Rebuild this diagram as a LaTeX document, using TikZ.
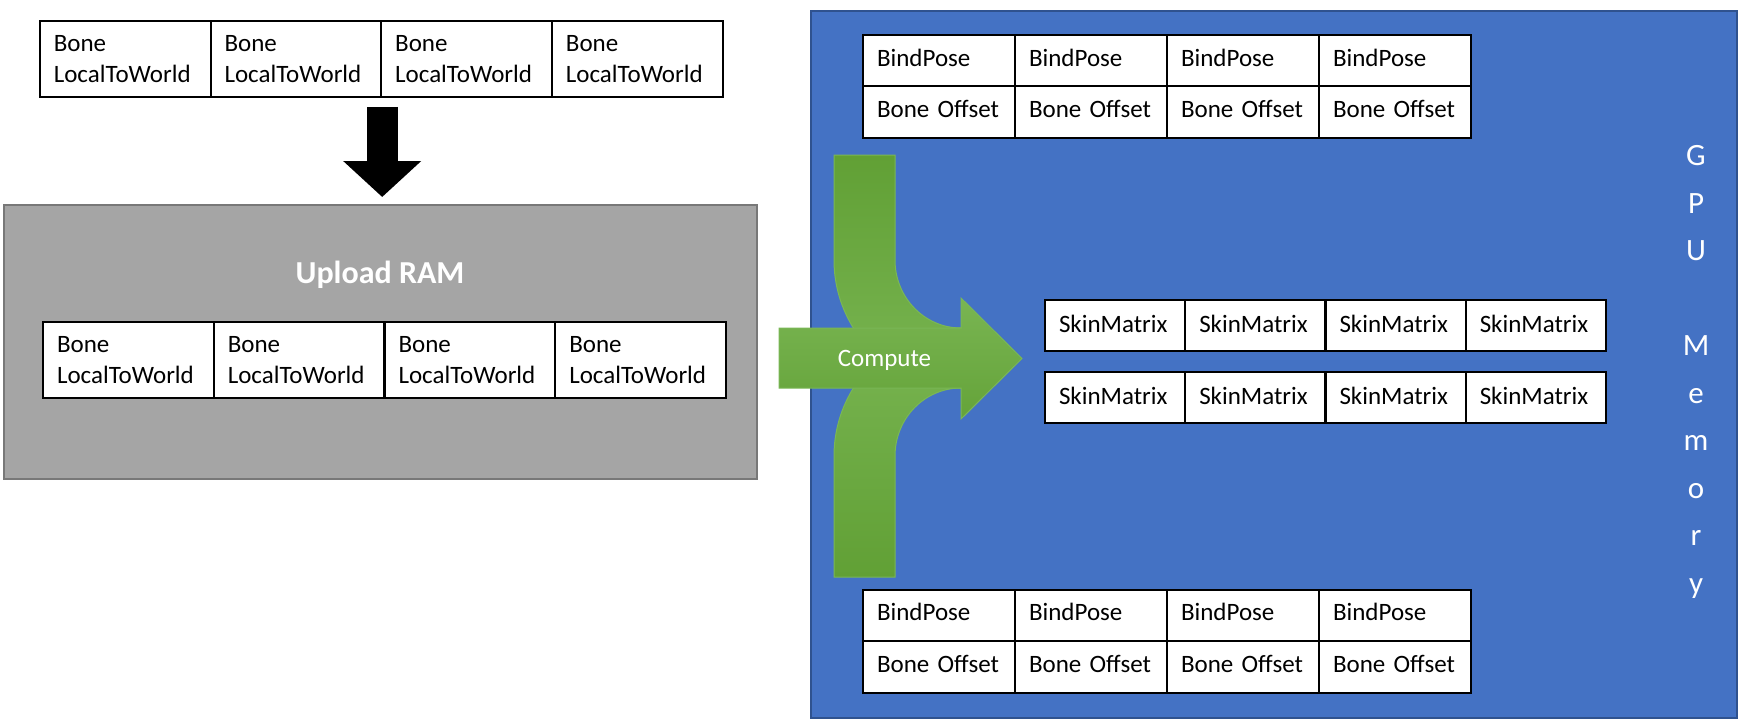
\documentclass[tikz,border=0pt]{standalone}
\usepackage{fontspec}
\setmainfont{Carlito}
\usetikzlibrary{arrows.meta,calc}

\definecolor{gpublue}{RGB}{68,114,196}
\definecolor{gpuedge}{RGB}{47,82,143}
\definecolor{ramgray}{RGB}{165,165,165}
\definecolor{ramedge}{RGB}{120,120,120}
\definecolor{greendark}{RGB}{97,160,53}
\definecolor{greenlight}{RGB}{121,181,82}
\definecolor{greenedge}{RGB}{122,183,86}

\begin{document}
\begin{tikzpicture}[x=0.5pt, y=-0.5pt,
  cell/.style={draw=black, fill=white, line width=1pt, anchor=north west,
    inner xsep=7pt, inner ysep=0pt, align=left,
    font=\fontsize{12.5}{15.5}\selectfont},
  bonecell/.style={cell, minimum width=85.35pt, text width=71.35pt, minimum height=38pt},
  posecell/.style={cell, minimum width=76pt, text width=62pt, minimum height=25.75pt,
    text height=9pt, text depth=3.5pt},
  skincell/.style={cell, minimum width=70.1pt, text width=56.1pt, minimum height=25.25pt,
    text height=9pt, text depth=2pt},
  membox/.style={anchor=north west, line width=1pt},
  greenband/.style={draw=greenedge, line width=0.5pt}]
  \useasboundingbox (0,0) rectangle (1738,722);

  % Memory areas
  \node[membox, draw=ramedge, fill=ramgray, minimum width=376.35pt, minimum height=137pt] (ram) at (3.3,204) {};
  \node[membox, draw=gpuedge, fill=gpublue, minimum width=463pt, minimum height=353.5pt] (gpu) at (810,10) {};
  \node[anchor=base, text=white, font=\fontsize{16}{19}\selectfont\bfseries] (ramlabel) at (380,283) {Upload RAM};
  \node[anchor=north, inner sep=0pt, align=center, text=white,
    font=\fontsize{15.5}{23.75}\selectfont] (gpulabel) at (1696,145)
    {G\\P\\U\\[23.75pt]M\\e\\m\\o\\r\\y};

  % Bone transforms, before and after upload
  \foreach \i in {1,...,4} {
    \node[bonecell] (top\i) at ({38.8+(\i-1)*170.7},20) {Bone\\LocalToWorld};
    \node[bonecell] (ram\i) at ({42+(\i-1)*170.75},321) {Bone\\LocalToWorld};
  }

  % Bind poses and skin matrices in GPU memory
  \foreach \i in {1,...,4} {
    \node[posecell] (poseA\i) at ({862+(\i-1)*152},34) {BindPose};
    \node[posecell] (offA\i) at ({862+(\i-1)*152},85.5) {Bone Offset};
    \node[posecell] (poseB\i) at ({862+(\i-1)*152},588.5) {BindPose};
    \node[posecell] (offB\i) at ({862+(\i-1)*152},640) {Bone Offset};
    \node[skincell] (skinA\i) at ({1044+(\i-1)*140.25},299) {SkinMatrix};
    \node[skincell] (skinB\i) at ({1044+(\i-1)*140.25},371) {SkinMatrix};
  }

  % Upload arrow
  \coordinate (dropTop) at ($(top2.south east)+(0,9)$);
  \coordinate (dropEnd) at ($(ram.north)+(0,-7)$);
  \draw[line width=15.5pt, -{Triangle[length=18pt,width=38pt]}] (dropTop) -- (dropTop |- dropEnd);

  % Compute arrow, fed from both bind pose tables
  \shadedraw[greenband, top color=greendark, bottom color=greenlight]
    (834,155) -- (834,260) arc[start angle=180, end angle=90, x radius=127, y radius=128]
    -- (961,328) arc[start angle=90, end angle=180, x radius=66, y radius=68]
    -- (895,155) -- cycle;
  \shadedraw[greenband, top color=greenlight, bottom color=greendark]
    (834,577) -- (834,456) arc[start angle=180, end angle=270, x radius=127, y radius=128]
    -- (961,388) arc[start angle=270, end angle=180, x radius=66, y radius=68]
    -- (895,577) -- cycle;
  \shadedraw[greenband, top color=greenlight, bottom color=greendark!85!greenlight]
    (779,328) -- (961,328) -- (961,298) -- (1022,358.5) -- (961,419) -- (961,388) -- (779,388) -- cycle;
  \node[anchor=base, text=white, font=\fontsize{12.5}{15.5}\selectfont] (compute) at (884.5,366) {Compute};

\end{tikzpicture}
\end{document}
